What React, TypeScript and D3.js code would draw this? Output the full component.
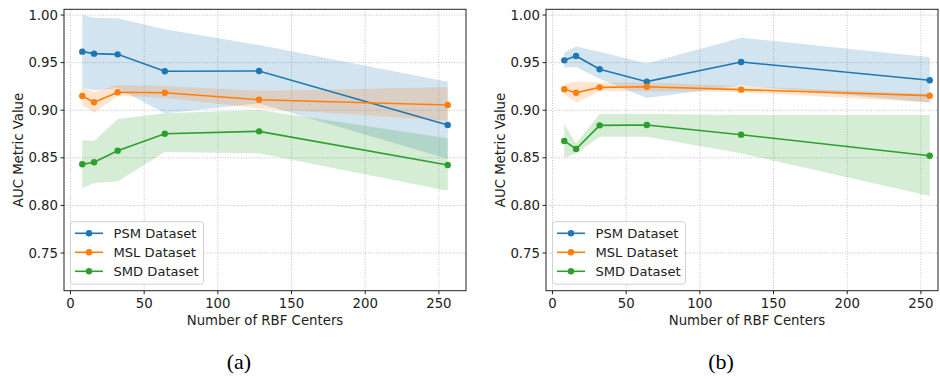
import * as d3 from "d3";
import React from "react";

// x positions (number of RBF centers)
const centers = [8, 16, 32, 64, 128, 256];
const seriesNames = ["PSM Dataset", "MSL Dataset", "SMD Dataset"];
const colors = ["#1f77b4", "#ff7f0e", "#2ca02c"];
const xTickValues = [0, 50, 100, 150, 200, 250];
const yTickValues = [0.75, 0.8, 0.85, 0.9, 0.95, 1.0];

// panel (a)
const psmA = [0.9615, 0.9594, 0.9587, 0.9409, 0.9412, 0.8845];
const psmAHi = [1.0, 0.997, 0.9965, 0.985, 0.9685, 0.93];
const psmALo = [0.9236, 0.921, 0.923, 0.8967, 0.907, 0.849];
const mslA = [0.915, 0.9083, 0.9188, 0.9184, 0.911, 0.9055];
const mslAHi = [0.924, 0.919, 0.9265, 0.9255, 0.9205, 0.924];
const mslALo = [0.9055, 0.8974, 0.915, 0.913, 0.902, 0.889];
const smdA = [0.8432, 0.8453, 0.8575, 0.8753, 0.8778, 0.8424];
const smdAHi = [0.8687, 0.8676, 0.8908, 0.8967, 0.9002, 0.8705];
const smdALo = [0.818, 0.8235, 0.825, 0.856, 0.8547, 0.8155];

// panel (b)
const psmB = [0.9524, 0.957, 0.943, 0.93, 0.9506, 0.9314];
const psmBHi = [0.9604, 0.967, 0.9615, 0.949, 0.9762, 0.9556];
const psmBLo = [0.9447, 0.9454, 0.933, 0.9128, 0.926, 0.908];
const mslB = [0.922, 0.9184, 0.924, 0.9247, 0.9216, 0.9153];
const mslBHi = [0.9275, 0.93, 0.929, 0.929, 0.9254, 0.917];
const mslBLo = [0.9167, 0.908, 0.92, 0.92, 0.919, 0.908];
const smdB = [0.8677, 0.8593, 0.8841, 0.8845, 0.8743, 0.8522];
const smdBHi = [0.8855, 0.865, 0.896, 0.896, 0.895, 0.895];
const smdBLo = [0.85, 0.8547, 0.872, 0.872, 0.8547, 0.81];

interface Series {
  mean: number[];
  hi: number[];
  lo: number[];
}

const font = "DejaVu Sans, sans-serif";

function Panel({
  id,
  left,
  width,
  frameRight,
  series,
  caption,
}: {
  id: string;
  left: number;
  width: number;
  frameRight: number;
  series: Series[];
  caption: string;
}) {
  const top = 9.3;
  const bottom = 290.7;
  const x = d3.scaleLinear([-4.4, 268.4], [left, left + width]);
  const y = d3.scaleLinear([0.7104, 1.006], [bottom, top]);
  const cx = left + width / 2;

  const line = d3
    .line<number>()
    .x((_, i) => x(centers[i]))
    .y((d) => y(d));

  return (
    <g fontFamily={font}>
      <defs>
        <clipPath id={`clip-${id}`}>
          <rect x={left} y={top} width={frameRight - left} height={bottom - top} />
        </clipPath>
      </defs>
      {/* grid */}
      <g stroke="#b0b0b0" strokeWidth={0.8} strokeDasharray="1,1.6">
        {xTickValues.map((t) => (
          <line key={`gx${t}`} x1={x(t)} x2={x(t)} y1={top} y2={bottom} />
        ))}
        {yTickValues.map((t) => (
          <line key={`gy${t}`} x1={left} x2={frameRight} y1={y(t)} y2={y(t)} />
        ))}
      </g>
      {/* bands */}
      <g clipPath={`url(#clip-${id})`}>
        {series.map((s, k) => {
          const area = d3
            .area<number>()
            .x((_, i) => x(centers[i]))
            .y0((_, i) => y(s.lo[i]))
            .y1((_, i) => y(s.hi[i]));
          return (
            <path key={`b${k}`} d={area(s.mean) ?? ""} fill={colors[k]} fillOpacity={0.2} />
          );
        })}
        {series.map((s, k) => (
          <g key={`l${k}`}>
            <path d={line(s.mean) ?? ""} fill="none" stroke={colors[k]} strokeWidth={1.6} />
            {s.mean.map((v, i) => (
              <circle key={i} cx={x(centers[i])} cy={y(v)} r={3.2} fill={colors[k]} />
            ))}
          </g>
        ))}
      </g>
      {/* frame */}
      <rect
        x={left}
        y={top}
        width={frameRight - left}
        height={bottom - top}
        fill="none"
        stroke="#222"
        strokeWidth={1}
      />
      {/* y axis */}
      <g fontSize={13.3} textAnchor="end" fill="#222">
        {yTickValues.map((t) => (
          <g key={`yt${t}`}>
            <line x1={left - 3.5} x2={left} y1={y(t)} y2={y(t)} stroke="#222" />
            <text x={left - 6} y={y(t)} dy="0.35em">
              {t.toFixed(2)}
            </text>
          </g>
        ))}
      </g>
      <text
        transform={`translate(${left - 46},${(top + bottom) / 2}) rotate(-90)`}
        textAnchor="middle"
        dy="0.35em"
        fontSize={13.3}
        fill="#222"
      >
        AUC Metric Value
      </text>
      {/* x axis */}
      <g fontSize={13.3} textAnchor="middle" fill="#222">
        {xTickValues.map((t) => (
          <g key={`xt${t}`}>
            <line x1={x(t)} x2={x(t)} y1={bottom} y2={bottom + 3.5} stroke="#222" />
            <text x={x(t)} y={bottom + 13} dy="0.35em">
              {t}
            </text>
          </g>
        ))}
      </g>
      <text x={cx} y={320} dy="0.35em" textAnchor="middle" fontSize={13.3} fill="#222">
        Number of RBF Centers
      </text>
      {/* legend */}
      <g>
        <rect
          x={left + 6.5}
          y={221.7}
          width={133}
          height={62.5}
          rx={3}
          fill="#fff"
          fillOpacity={0.8}
          stroke="#d0d0d0"
        />
        {seriesNames.map((name, k) => {
          const ly = 233.3 + k * 19;
          return (
            <g key={name}>
              <line x1={left + 11} x2={left + 39} y1={ly} y2={ly} stroke={colors[k]} strokeWidth={1.6} />
              <circle cx={left + 25} cy={ly} r={3.2} fill={colors[k]} />
              <text x={left + 49.5} y={ly} dy="0.35em" fontSize={13.1} fill="#222">
                {name}
              </text>
            </g>
          );
        })}
      </g>
      <text
        x={cx - 26}
        y={361}
        dy="0.35em"
        textAnchor="middle"
        fontSize={22}
        fontFamily="Liberation Serif, serif"
        fill="#000"
      >
        {caption}
      </text>
    </g>
  );
}

export default function App() {
  const seriesA: Series[] = [
    { mean: psmA, hi: psmAHi, lo: psmALo },
    { mean: mslA, hi: mslAHi, lo: mslALo },
    { mean: smdA, hi: smdAHi, lo: smdALo },
  ];
  const seriesB: Series[] = [
    { mean: psmB, hi: psmBHi, lo: psmBLo },
    { mean: mslB, hi: mslBHi, lo: mslBLo },
    { mean: smdB, hi: smdBHi, lo: smdBLo },
  ];
  return (
    <svg
      width={940}
      height={379}
      style={{ position: "absolute", left: 0, top: 0, background: "#fff" }}
    >
      <rect width={940} height={379} fill="#fff" />
      <Panel id="a" left={64} width={402} frameRight={466} series={seriesA} caption="(a)" />
      <Panel id="b" left={546} width={402} frameRight={938} series={seriesB} caption="(b)" />
    </svg>
  );
}
